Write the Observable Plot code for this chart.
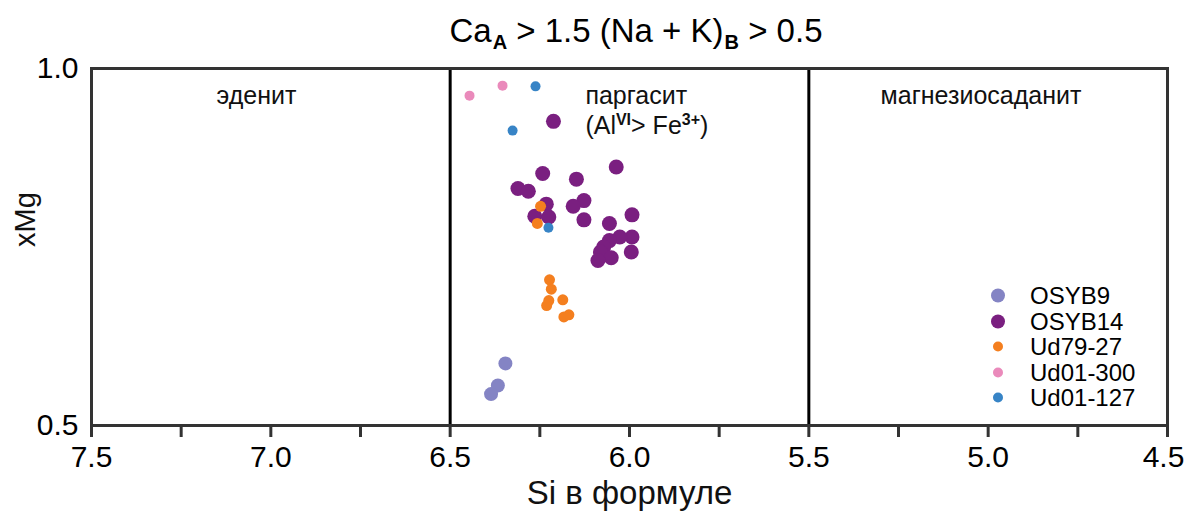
<!DOCTYPE html>
<html><head><meta charset="utf-8">
<script src="https://cdn.jsdelivr.net/npm/d3@7"></script>
<script src="https://cdn.jsdelivr.net/npm/@observablehq/plot@0.6"></script>
<style>
body{margin:0;background:#fff;font-family:"Liberation Sans",Arial,sans-serif;}
#wrap{position:relative;width:1184px;height:511px;overflow:hidden;background:#fff;}
#title{position:absolute;z-index:2;left:0;width:1272px;top:13px;text-align:center;font-size:33px;line-height:36px;color:#000;white-space:pre;}
#title sub{font-size:20px;font-weight:bold;vertical-align:-7px;line-height:0;margin-left:1px;}
#chart{position:absolute;z-index:1;left:0;top:30px;}
#legend{position:absolute;z-index:3;left:980px;top:283px;font-size:24px;line-height:25.5px;color:#000;}
#legend .row{display:flex;align-items:center;height:25.5px;}
#legend svg{width:36px;height:25px;display:block;}
</style>
</head><body>
<div id="wrap">
  <div id="chart"></div>
  <div id="title">Ca<sub>A</sub> &gt; 1.5 (Na + K)<sub>B</sub> &gt; 0.5</div>
  <div id="legend"></div>
</div>
<script>
// ---- data ----
const series = ["OSYB9", "OSYB14", "Ud79-27", "Ud01-300", "Ud01-127"];
const colors = ["#8484c4", "#7a1f80", "#f47f1f", "#ea8abb", "#3784c6"];
const radii = [7, 7.5, 5.5, 5, 5];
const legendRadii = [7, 7, 5, 5, 5];

const osyb9X = [6.346, 6.367, 6.386];
const osyb9Y = [0.587, 0.556, 0.544];

const osyb14X = [6.212, 6.242, 6.037, 6.311, 6.282, 6.148, 6.127, 6.157, 6.232, 6.264, 6.225, 6.127, 6.056, 5.993, 5.993, 6.027, 6.056, 6.072, 6.081, 6.051, 6.088, 5.995];
const osyb14Y = [0.926, 0.853, 0.862, 0.832, 0.828, 0.845, 0.815, 0.807, 0.810, 0.793, 0.792, 0.788, 0.783, 0.795, 0.764, 0.764, 0.759, 0.750, 0.743, 0.735, 0.731, 0.743];

const ud7927X = [6.248, 6.257, 6.223, 6.218, 6.225, 6.231, 6.186, 6.183, 6.169];
const ud7927Y = [0.807, 0.783, 0.704, 0.691, 0.675, 0.668, 0.676, 0.652, 0.655];

const ud01300X = [6.446, 6.354];
const ud01300Y = [0.962, 0.976];

const ud01127X = [6.262, 6.326, 6.226];
const ud01127Y = [0.975, 0.913, 0.777];

const xTicks = [7.5, 7.25, 7.0, 6.75, 6.5, 6.25, 6.0, 5.75, 5.5, 5.25, 5.0, 4.75, 4.5];
const yTicks = [0.5, 1.0];
const boundaries = [6.5, 5.5];
const xLabel = "Si в формуле";
const yLabel = "xMg";

const regionNames = ["эденит", "паргасит", "магнезиосаданит"];
const regionX = [7.04, 6.123, 5.02];
const regionY = [0.961, 0.961, 0.961];
const regionAnchor = ["middle", "start", "middle"];
const subLabel = "(AlVI> Fe3+)";
const subLabelX = [6.123];
const subLabelY = [0.920];

// ---- build ----
const xs = [osyb9X, osyb14X, ud7927X, ud01300X, ud01127X];
const ys = [osyb9Y, osyb14Y, ud7927Y, ud01300Y, ud01127Y];
const rows = [];
series.forEach((s, i) => xs[i].forEach((x, j) => rows.push({series: s, x, y: ys[i][j], r: radii[i]})));

const regions = regionNames.map((t, i) => ({t, x: regionX[i], y: regionY[i], a: regionAnchor[i]}));
const lastTick = xTicks[xTicks.length - 1];
const isMajor = d => Math.abs(d * 2 - Math.round(d * 2)) < 1e-9;

const plot = Plot.plot({
  width: 1184,
  height: 481,
  marginTop: 38,
  marginBottom: 86,
  marginLeft: 91,
  marginRight: 17,
  x: {domain: [7.5, 4.5]},
  y: {domain: [0.5, 1.0]},
  color: {domain: series, range: colors},
  r: {type: "identity"},
  style: {fontFamily: "'Liberation Sans', Arial, sans-serif", fontSize: "24px", color: "#000", background: "transparent"},
  marks: [
    Plot.ruleX(boundaries, {stroke: "#000", strokeWidth: 3}),
    Plot.dot(rows, {x: "x", y: "y", r: "r", fill: "series", stroke: null}),
    Plot.text(regions.filter(d => d.a === "middle"), {x: "x", y: "y", text: "t", textAnchor: "middle", fontSize: 25, fill: "#111"}),
    Plot.text(regions.filter(d => d.a === "start"), {x: "x", y: "y", text: "t", textAnchor: "start", fontSize: 25, fill: "#111"}),
    Plot.text(subLabelX, {x: d => d, y: subLabelY[0], text: () => subLabel, textAnchor: "start", fontSize: 25, fill: "#111", className: "sublabel"}),
    Plot.axisX({ticks: xTicks, tickSize: 12, tickPadding: 8, stroke: "#333", strokeWidth: 3,
      tickFormat: d => (isMajor(d) && d !== lastTick ? d.toFixed(1) : ""),
      fontSize: 30, label: null}),
    Plot.axisX({ticks: [lastTick], tickSize: 0, tickPadding: 20, dx: -4,
      tickFormat: d => d.toFixed(1), fontSize: 30, label: null}),
    Plot.text([xLabel], {frameAnchor: "bottom", lineAnchor: "middle", text: d => d, dy: 68, fontSize: 33, fill: "#111"}),
    Plot.axisY({ticks: yTicks, tickSize: 0, tickPadding: 13, tickFormat: d => d.toFixed(1), fontSize: 30,
      label: null}),
    Plot.text([yLabel], {frameAnchor: "left", text: d => d, dx: -66, rotate: -90, fontSize: 29, fill: "#111"}),
    Plot.frame({stroke: "#333", strokeWidth: 3})
  ]
});
document.getElementById("chart").appendChild(plot);

// superscripts in sublabel
plot.querySelectorAll(".sublabel text").forEach(t => {
  if (t.textContent === subLabel) {
    t.textContent = "";
    const parts = [["(Al", 0, null], ["VI", -9, 16], ["> Fe", 9, null], ["3+", -9, 16], [")", 9, null]];
    parts.forEach(([s, dy, fs]) => {
      const ts = document.createElementNS("http://www.w3.org/2000/svg", "tspan");
      ts.textContent = s;
      if (dy) ts.setAttribute("dy", dy);
      if (fs) { ts.setAttribute("font-size", fs); ts.setAttribute("font-weight", "bold"); }
      t.appendChild(ts);
    });
  }
});

// legend
const leg = document.getElementById("legend");
series.forEach((s, i) => {
  const row = document.createElement("div");
  row.className = "row";
  row.innerHTML = `<svg viewBox="0 0 36 25"><circle cx="18" cy="12.5" r="${legendRadii[i]}" fill="${colors[i]}"></circle></svg><span style="margin-left:14px">${s}</span>`;
  leg.appendChild(row);
});
</script>
</body></html>
